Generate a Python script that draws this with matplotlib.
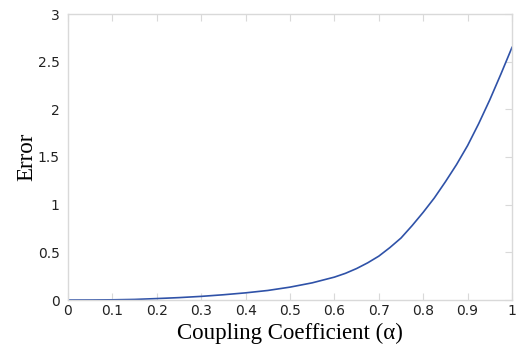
import matplotlib
matplotlib.use("Agg")
import matplotlib.pyplot as plt

alpha = [0.0, 0.05, 0.1, 0.15, 0.2, 0.25, 0.3, 0.35, 0.4, 0.45, 0.5,
         0.55, 0.6, 0.625, 0.65, 0.675, 0.7, 0.725, 0.75, 0.775, 0.8,
         0.825, 0.85, 0.875, 0.9, 0.925, 0.95, 0.975, 1.0]
error = [0.0, 0.0005, 0.002, 0.006, 0.015, 0.025, 0.038, 0.055, 0.075, 0.10, 0.135,
         0.18, 0.24, 0.28, 0.33, 0.39, 0.46, 0.55, 0.65, 0.78, 0.92,
         1.07, 1.24, 1.42, 1.62, 1.85, 2.10, 2.37, 2.65]
xticks = [0, 0.1, 0.2, 0.3, 0.4, 0.5, 0.6, 0.7, 0.8, 0.9, 1]
xticklabels = ["0", "0.1", "0.2", "0.3", "0.4", "0.5", "0.6", "0.7", "0.8", "0.9", "1"]
yticks = [0, 0.5, 1, 1.5, 2, 2.5, 3]
yticklabels = ["0", "0.5", "1", "1.5", "2", "2.5", "3"]

fig = plt.figure(figsize=(5.18, 3.51), dpi=100)
ax = fig.add_axes([68/518, 51/351, 444/518, 286/351])
ax.plot(alpha, error, color="#2f52a8", linewidth=1.2)
ax.set_xlim(0, 1)
ax.set_ylim(0, 3)
ax.set_xticks(xticks)
ax.set_xticklabels(xticklabels, fontfamily="DejaVu Sans", fontsize=10)
ax.set_yticks(yticks)
ax.set_yticklabels(yticklabels, fontfamily="DejaVu Sans", fontsize=10)
for s in ax.spines.values():
    s.set_color("#d9d9d9")
    s.set_linewidth(1.0)
ax.tick_params(axis="x", direction="in", length=5, color="#d9d9d9", top=True,
               labelcolor="#222222", pad=3)
ax.tick_params(axis="y", direction="in", length=5, color="#d9d9d9", left=False, right=True,
               labelcolor="#222222", pad=6)
ax.set_xlabel("Coupling Coefficient (α)", fontfamily="Liberation Serif", fontsize=16.5, labelpad=3)
ax.set_ylabel("Error", fontfamily="Liberation Serif", fontsize=16.5, labelpad=0)
fig.savefig("out.png", dpi=100)
